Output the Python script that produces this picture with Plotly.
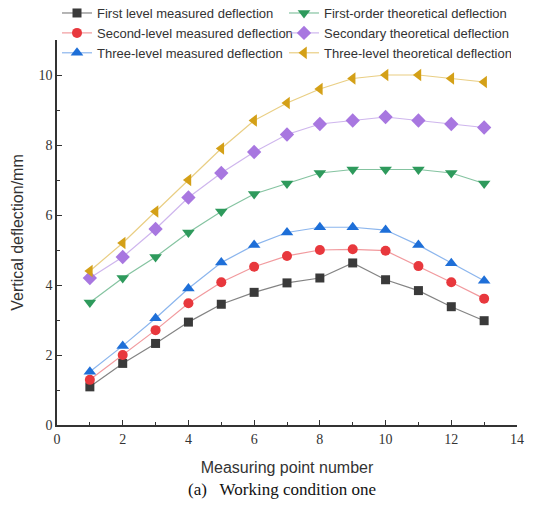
import plotly.graph_objects as go

points = list(range(1, 14))
first_measured = [1.09, 1.76, 2.33, 2.94, 3.45, 3.79, 4.06, 4.20, 4.63, 4.15, 3.84, 3.38, 2.98]
first_theory = [3.5, 4.2, 4.8, 5.5, 6.1, 6.6, 6.9, 7.2, 7.3, 7.3, 7.3, 7.2, 6.9]
second_measured = [1.29, 2.00, 2.71, 3.48, 4.08, 4.52, 4.83, 5.00, 5.02, 4.98, 4.54, 4.08, 3.61]
second_theory = [4.2, 4.8, 5.6, 6.5, 7.2, 7.8, 8.3, 8.6, 8.7, 8.8, 8.7, 8.6, 8.5]
third_measured = [1.52, 2.26, 3.05, 3.90, 4.64, 5.14, 5.50, 5.65, 5.65, 5.57, 5.14, 4.62, 4.12]
third_theory = [4.4, 5.2, 6.1, 7.0, 7.9, 8.7, 9.2, 9.6, 9.9, 10.0, 10.0, 9.9, 9.8]

series = [
    ("First level measured deflection", first_measured, "square", "#3a3a3a", "rgba(90,90,90,0.75)", 9),
    ("First-order theoretical deflection", first_theory, "triangle-down", "#2e9a5c", "rgba(80,170,120,0.7)", 11),
    ("Second-level measured deflection", second_measured, "circle", "#e8383d", "rgba(235,110,115,0.7)", 10),
    ("Secondary theoretical deflection", second_theory, "diamond", "#a877e0", "rgba(185,150,230,0.7)", 11),
    ("Three-level measured deflection", third_measured, "triangle-up", "#1e6fd8", "rgba(90,150,230,0.7)", 11),
    ("Three-level theoretical deflection", third_theory, "triangle-left", "#d4a017", "rgba(225,190,90,0.75)", 11),
]

fig = go.Figure()
for name, vals, sym, mcol, lcol, size in series:
    fig.add_trace(go.Scatter(
        x=points, y=vals, name=name, mode="lines+markers",
        line=dict(color=lcol, width=1.2),
        marker=dict(symbol=sym, color=mcol, size=size, line=dict(width=0)),
    ))

axis_common = dict(
    showline=True, linecolor="#333", linewidth=1.5,
    ticks="inside", ticklen=5, tickwidth=1.2, tickcolor="#333",
    showgrid=False, zeroline=False,
    tickfont=dict(family="Liberation Serif, Times New Roman, serif", size=14, color="#333"),
    minor=dict(ticks="inside", ticklen=3, tickwidth=1, tickcolor="#333", dtick=1),
    dtick=2, tick0=0,
)

fig.update_layout(
    width=552, height=515,
    margin=dict(l=57, r=35, t=40, b=90, autoexpand=False),
    paper_bgcolor="white", plot_bgcolor="white",
    font=dict(family="Liberation Sans, Arial, sans-serif", color="#333"),
    xaxis=dict(range=[0, 14], **axis_common,
               title=dict(text="Measuring point number", font=dict(size=16, color="#333"), standoff=16)),
    yaxis=dict(range=[0, 11], **axis_common,
               title=dict(text="Vertical deflection/mm", font=dict(size=16, color="#333"), standoff=11)),
    legend=dict(
        orientation="h", x=0.0, y=1.109, xanchor="left", yanchor="top",
        xref="paper", yref="paper",
        entrywidth=182, entrywidthmode="pixels",
        font=dict(size=13, color="#333"),
        bgcolor="rgba(0,0,0,0)", tracegroupgap=0, itemwidth=30,
    ),
    showlegend=True,
)

fig.add_annotation(
    text="(a)&nbsp;&nbsp;&nbsp;Working condition one",
    xref="paper", yref="paper", x=0.49, y=-0.138, xanchor="center", yanchor="top",
    showarrow=False,
    font=dict(family="Liberation Serif, Times New Roman, serif", size=17, color="#111"),
)

fig.write_html("out.html")
